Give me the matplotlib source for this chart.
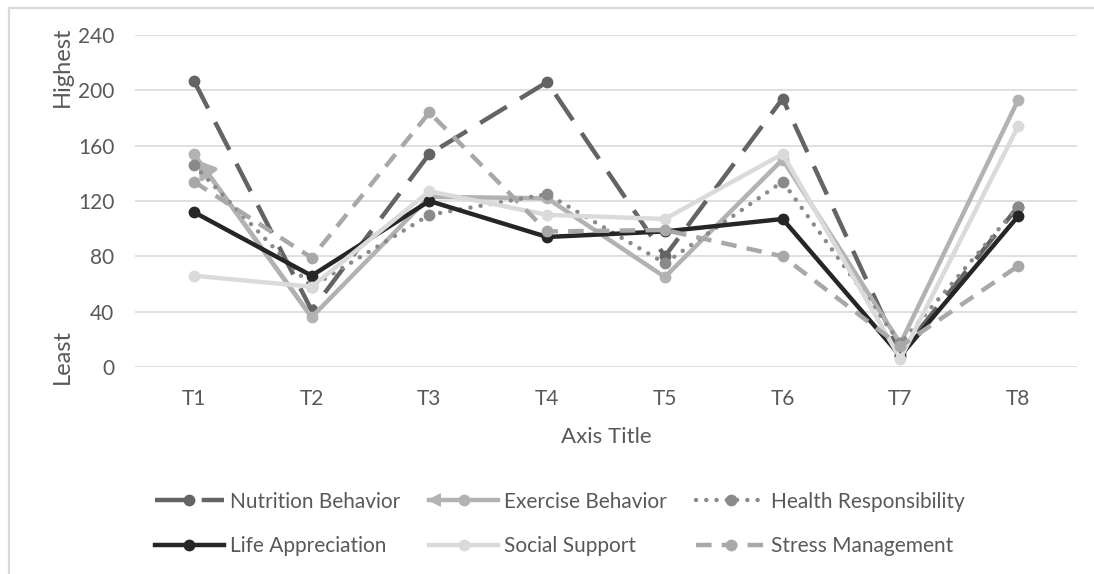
import matplotlib
matplotlib.use('Agg')
import matplotlib.pyplot as plt
from matplotlib.lines import Line2D
from matplotlib.patches import FancyArrowPatch
from matplotlib.legend_handler import HandlerLine2D

plt.rcParams['font.family'] = ['Lato', 'DejaVu Sans']

# scores per test point
tests = ['T1', 'T2', 'T3', 'T4', 'T5', 'T6', 'T7', 'T8']
nutrition = [207, 41, 154, 206, 80, 194, 10, 116]
exercise = [154, 36, 123, 122, 65, 150, 17, 193]
health = [146, 58, 110, 125, 75, 134, 17, 116]
life = [112, 66, 120, 94, 98, 107, 8, 109]
social = [66, 58, 127, 110, 107, 154, 6, 174]
stress = [134, 79, 184, 98, 99, 80, 15, 73]
y_ticks = [0, 40, 80, 120, 160, 200, 240]

TXT = '#595959'
LW = 3.2
MS = 8.5

fig = plt.figure(figsize=(10.94, 5.74), dpi=100)
ax = fig.add_axes([135 / 1094, 1 - 367 / 574, 942 / 1094, 332 / 574])

x = list(range(len(tests)))

series = [
    ('Nutrition Behavior', nutrition, '#646464', dict(dashes=(7, 3.5))),
    ('Exercise Behavior', exercise, '#b2b2b2', dict(linestyle='-')),
    ('Health Responsibility', health, '#8a8a8a', dict(dashes=(0.01, 2.3), dash_capstyle='round')),
    ('Life Appreciation', life, '#262626', dict(linestyle='-')),
    ('Social Support', social, '#dadada', dict(linestyle='-')),
    ('Stress Management', stress, '#a8a8a8', dict(dashes=(3.5, 2.3))),
]

handles = {}
for name, vals, col, style in series:
    ln, = ax.plot(x, vals, color=col, lw=LW, marker='o', ms=MS,
                  markeredgewidth=0, label=name, **style)
    handles[name] = ln
    if name == 'Exercise Behavior':
        # arrow head at the start of the series
        arr = FancyArrowPatch((x[1], vals[1]), (x[0], vals[0]),
                              arrowstyle='-|>,head_length=6,head_width=4',
                              color=col, lw=LW, shrinkA=0, shrinkB=6,
                              mutation_scale=1.5)
        ax.add_patch(arr)

ax.set_xlim(-0.5, 7.5)
ax.set_ylim(0, 240)
ax.set_yticks(y_ticks)
ax.set_xticks(x)
ax.set_xticklabels(tests)
ax.grid(axis='y', color='#d9d9d9', lw=1.2)
ax.set_axisbelow(True)
for s in ax.spines.values():
    s.set_visible(False)
ax.tick_params(axis='both', length=0, labelsize=15, labelcolor=TXT)
ax.tick_params(axis='y', pad=15)
ax.tick_params(axis='x', pad=16)
ax.set_xlabel('Axis Title', fontsize=16, color=TXT, labelpad=13)

fig.text(62 / 1094, 1 - 67 / 574, 'Highest', rotation=90, ha='center',
         va='center', fontsize=17, color=TXT)
fig.text(62 / 1094, 1 - 356 / 574, 'Least', rotation=90, ha='center',
         va='center', fontsize=17, color=TXT)


class ArrowLineHandler(HandlerLine2D):
    def create_artists(self, legend, orig_handle, xdescent, ydescent,
                       width, height, fontsize, trans):
        arts = super().create_artists(legend, orig_handle, xdescent, ydescent,
                                      width, height, fontsize, trans)
        tip = Line2D([-xdescent + 3], [height / 2 - ydescent], marker='<',
                     ms=10, color=orig_handle.get_color(), lw=0,
                     markeredgewidth=0, transform=trans)
        return arts + [tip]


order = ['Nutrition Behavior', 'Life Appreciation', 'Exercise Behavior',
         'Social Support', 'Health Responsibility', 'Stress Management']
leg = fig.legend([handles[n] for n in order], order, loc='center',
                 bbox_to_anchor=(560 / 1094, 1 - 524 / 574), ncol=3,
                 frameon=False, fontsize=15, labelcolor=TXT,
                 handlelength=3.3, handletextpad=0.3, columnspacing=1.4,
                 labelspacing=1.2, numpoints=1,
                 handler_map={handles['Exercise Behavior']: ArrowLineHandler()})

# chart border
fig.add_artist(Line2D([8.5 / 1094, 8.5 / 1094], [0, 1 - 8 / 574],
                      transform=fig.transFigure, color='#d9d9d9', lw=1.6))
fig.add_artist(Line2D([8.5 / 1094, 1], [1 - 8 / 574, 1 - 8 / 574],
                      transform=fig.transFigure, color='#d9d9d9', lw=1.6))

fig.savefig('out.png', dpi=100)
